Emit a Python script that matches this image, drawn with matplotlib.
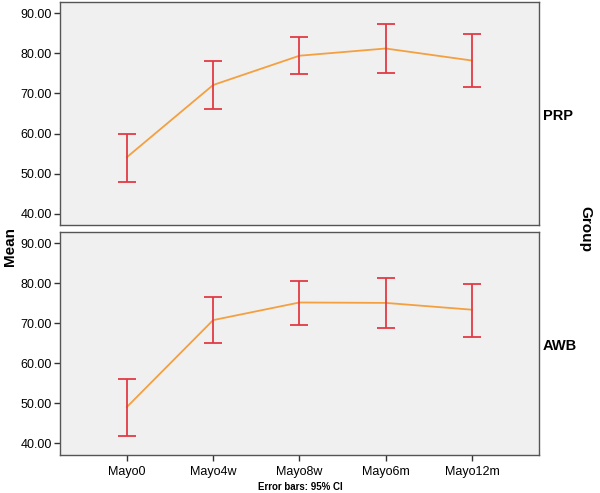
import matplotlib
matplotlib.use("Agg")
import matplotlib.pyplot as plt
import numpy as np

plt.rcParams['font.family'] = ['Liberation Sans', 'DejaVu Sans']

categories = ["Mayo0", "Mayo4w", "Mayo8w", "Mayo6m", "Mayo12m"]
groups = ["PRP", "AWB"]
prp_mean = [54.1, 72.1, 79.4, 81.2, 78.2]
prp_low = [47.9, 66.1, 74.9, 75.1, 71.5]
prp_high = [59.8, 78.0, 84.1, 87.3, 84.8]
awb_mean = [49.1, 70.8, 75.2, 75.1, 73.4]
awb_low = [41.9, 65.0, 69.7, 68.9, 66.7]
awb_high = [56.0, 76.5, 80.6, 81.2, 79.9]
yticks = [40, 50, 60, 70, 80, 90]

fig = plt.figure(figsize=(6.0, 4.93), dpi=100)
ax1 = fig.add_axes([0.1, 0.5436, 0.798, 0.4524])
ax2 = fig.add_axes([0.1, 0.0777, 0.798, 0.4517])

data = [(ax1, prp_mean, prp_low, prp_high), (ax2, awb_mean, awb_low, awb_high)]
x = np.arange(len(categories))
for ax, m, lo, hi in data:
    ax.set_facecolor('#F0F0F0')
    m = np.array(m); lo = np.array(lo); hi = np.array(hi)
    ax.plot(x, m, color='#F4A040', lw=1.3, zorder=3)
    ax.errorbar(x, m, yerr=[m - lo, hi - m], fmt='none', ecolor='#E23A45',
                elinewidth=1.3, capsize=6.5, capthick=1.3, zorder=4)
    ax.set_xlim(-0.775, 4.775)
    ax.set_ylim(37.2, 92.8)
    ax.set_yticks(yticks)
    ax.set_yticklabels([f"{v:.2f}" for v in yticks], fontsize=9)
    for s in ax.spines.values():
        s.set_color('#555555')
        s.set_linewidth(1.0)
    ax.tick_params(axis='y', direction='out', length=4, width=1, color='#333333', pad=2)

ax1.set_xticks([])
ax2.set_xticks(x)
ax2.set_xticklabels(categories, fontsize=9)
ax2.tick_params(axis='x', direction='out', length=4, width=1, color='#333333', pad=4)

fig.text(0.905, 1 - 116 / 493, "PRP", fontsize=10.5, fontweight='bold', va='center', ha='left')
fig.text(0.905, 1 - 346 / 493, "AWB", fontsize=10.5, fontweight='bold', va='center', ha='left')
fig.text(0.016, 0.5, "Mean", fontsize=11, fontweight='bold', rotation=90, va='center', ha='center')
fig.text(0.975, 0.535, "Group", fontsize=11, fontweight='bold', rotation=270, va='center', ha='center')
fig.text(0.5, 1 - 487 / 493, "Error bars: 95% CI", fontsize=7, fontweight='bold', va='center', ha='center')

fig.savefig("out.png", dpi=100)
